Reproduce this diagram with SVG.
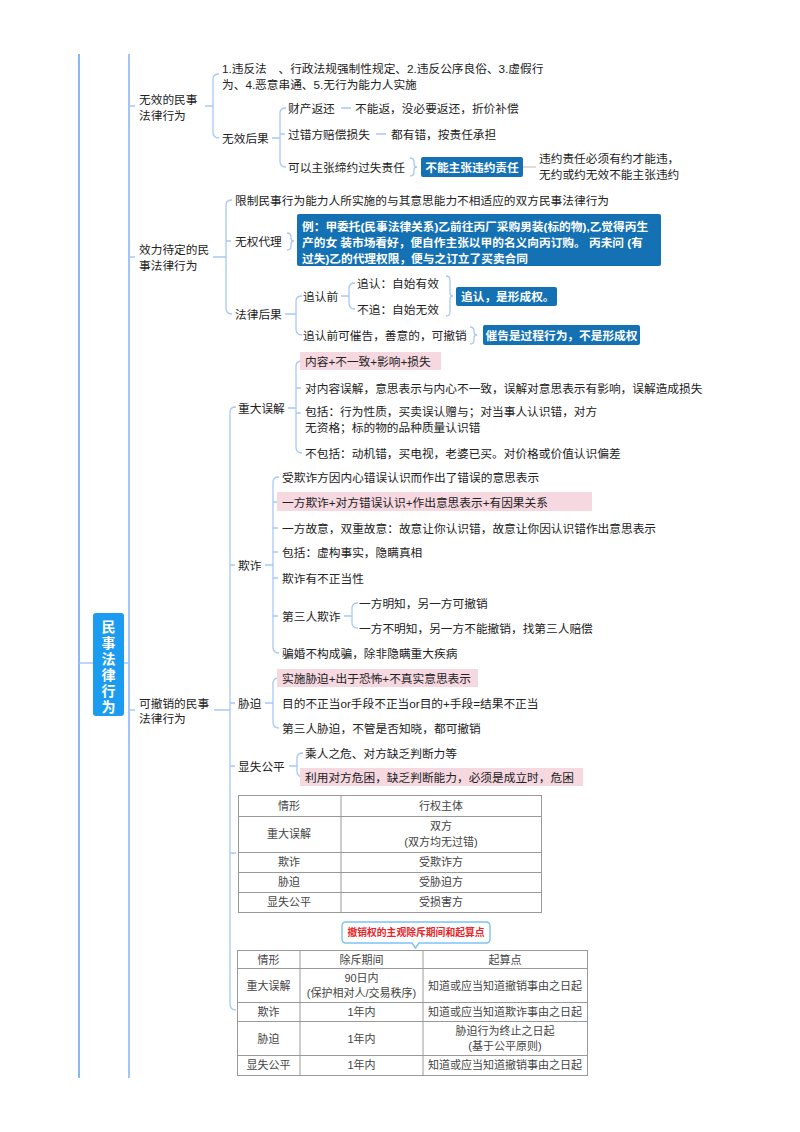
<svg xmlns="http://www.w3.org/2000/svg" width="800" height="1132" viewBox="0 0 800 1132">
<style>
text{font-family:"Liberation Sans","Noto Sans CJK SC",sans-serif;dominant-baseline:central}
.t{font-size:11.7px;fill:#222}
.b{font-size:11.7px;fill:#fff;font-weight:bold}
.r{font-size:14px;fill:#fff;font-weight:bold;text-anchor:middle}
.tb{font-size:11px;fill:#444;text-anchor:middle}
.ln{fill:none;stroke:#a8c8f6;stroke-width:1.3}
.main{fill:none;stroke:#8db6f5;stroke-width:2}
.blue{fill:#1371b4}
.pink{fill:#f5d8e0}
.grid{fill:none;stroke:#9a9a9a;stroke-width:1}
.grey{stroke:#d0d0d0;stroke-width:1.5}
</style>
<rect width="800" height="1132" fill="#fff"/>

<g id="connectors">
  <line class="main" x1="79" y1="54" x2="79" y2="1078"/>
  <line class="main" x1="129" y1="54" x2="129" y2="1078" style="stroke-width:1.6"/>
  <path class="ln" d="M79,663 H93 M123,663 H129"/>
  <path class="ln" d="M129,106 H135 M129,257 H135 M129,710 H135"/>
  <path class="ln" d="M205,106 H213 M219,74 Q213,74 213,79 V132 Q213,138 219,138"/>
  <path class="ln" d="M272,138 H280 M286,108 Q280,108 280,113 V161 Q280,167 286,167 M280,134 H285"/>
  <path class="ln" d="M341,108 H351 M376,134 H386"/>
  <path class="ln" d="M410,158 Q414,158 414,162 V164 Q414,167 417,167 Q414,167 414,170 V172 Q414,176 410,176"/>
  <line class="grey" x1="523" y1="167" x2="536" y2="167"/>
  <path class="ln" d="M213,257 H226 M232,200 Q226,200 226,205 V308 Q226,314 232,314 M226,241 H231"/>
  <path class="ln" d="M287,233 Q291,233 291,237 V238 Q291,241 294,241 Q291,241 291,244 V246 Q291,250 287,250"/>
  <path class="ln" d="M285,314 H296 M302,296 Q296,296 296,301 V329 Q296,335 302,335"/>
  <path class="ln" d="M341,296 H349 M355,283 Q349,283 349,288 V303 Q349,309 355,309"/>
  <path class="ln" d="M446,276 Q450,276 450,280 V293 Q450,296 453,296 Q450,296 450,299 V312 Q450,316 446,316"/>
  <path class="ln" d="M470,327 Q474,327 474,331 V332 Q474,335 477,335 Q474,335 474,338 V340 Q474,344 470,344"/>
  <path class="ln" d="M214,710 H230 M236,407 Q230,407 230,412 V1004 Q230,1010 236,1010 M230,565 H235 M230,703 H235 M230,766 H235 M230,853 H236"/>
  <path class="ln" d="M288,408 H296 M302,361 Q296,361 296,366 V447 Q296,453 302,453 M296,388 H301 M296,413 H301"/>
  <path class="ln" d="M265,565 H273 M279,477 Q273,477 273,482 V647 Q273,653 279,653 M273,502 H278 M273,528 H278 M273,552 H278 M273,578 H278 M273,616 H278"/>
  <path class="ln" d="M344,616 H352 M358,603 Q352,603 352,608 V623 Q352,628 358,628"/>
  <path class="ln" d="M265,703 H273 M279,678 Q273,678 273,683 V722 Q273,728 279,728"/>
  <path class="ln" d="M289,766 H297 M303,753 Q297,753 297,758 V771 Q297,777 303,777"/>
</g>

<g id="root">
  <rect x="93" y="613" width="31" height="103" rx="3" fill="#1c9cf0"/>
  <text class="r" x="108.5" y="627">民</text>
  <text class="r" x="108.5" y="643">事</text>
  <text class="r" x="108.5" y="659">法</text>
  <text class="r" x="108.5" y="675">律</text>
  <text class="r" x="108.5" y="691">行</text>
  <text class="r" x="108.5" y="707">为</text>
</g>

<g id="n-wuxiao">
  <text class="t" x="139" y="99">无效的民事</text>
  <text class="t" x="139" y="115">法律行为</text>
</g>
<g id="n-wuxiao-qingxing">
  <text class="t" x="222" y="68">1.违反法　、行政法规强制性规定、2.违反公序良俗、3.虚假行</text>
  <text class="t" x="222" y="84">为、4.恶意串通、5.无行为能力人实施</text>
</g>
<g id="n-wuxiao-houguo"><text class="t" x="222" y="138">无效后果</text></g>
<g id="n-caichan"><text class="t" x="288" y="108">财产返还</text></g>
<g id="n-caichan-d"><text class="t" x="355" y="108">不能返，没必要返还，折价补偿</text></g>
<g id="n-guocuo"><text class="t" x="288" y="134">过错方赔偿损失</text></g>
<g id="n-guocuo-d"><text class="t" x="391" y="134">都有错，按责任承担</text></g>
<g id="n-diyue"><text class="t" x="288" y="167">可以主张缔约过失责任</text></g>
<g id="n-diyue-note">
  <rect class="blue" x="421" y="157" width="102" height="20" rx="2"/>
  <text class="b" x="472" y="167" text-anchor="middle">不能主张违约责任</text>
</g>
<g id="n-diyue-d">
  <text class="t" x="539" y="158">违约责任必须有约才能违，</text>
  <text class="t" x="539" y="174">无约或约无效不能主张违约</text>
</g>

<g id="n-daiding">
  <text class="t" x="139" y="249">效力待定的民</text>
  <text class="t" x="139" y="265">事法律行为</text>
</g>
<g id="n-xianzhi"><text class="t" x="235" y="200">限制民事行为能力人所实施的与其意思能力不相适应的双方民事法律行为</text></g>
<g id="n-wuquan"><text class="t" x="235" y="241">无权代理</text></g>
<g id="n-wuquan-note">
  <rect class="blue" x="297" y="214" width="364" height="52" rx="2"/>
  <text class="b" x="302" y="226">例：甲委托(民事法律关系)乙前往丙厂采购男装(标的物),乙觉得丙生</text>
  <text class="b" x="302" y="242">产的女 装市场看好，便自作主张以甲的名义向丙订购。 丙未问 (有</text>
  <text class="b" x="302" y="258">过失)乙的代理权限，便与之订立了买卖合同</text>
</g>
<g id="n-falv"><text class="t" x="235" y="314">法律后果</text></g>
<g id="n-zhuirenqian"><text class="t" x="303" y="296">追认前</text></g>
<g id="n-zhuiren"><text class="t" x="357" y="283">追认：自始有效</text></g>
<g id="n-buzhui"><text class="t" x="357" y="309">不追：自始无效</text></g>
<g id="n-xingcheng">
  <rect class="blue" x="456" y="287" width="101" height="19" rx="2"/>
  <text class="b" x="461" y="296.5">追认，是形成权。</text>
</g>
<g id="n-cuigao"><text class="t" x="303" y="335">追认前可催告，善意的，可撤销</text></g>
<g id="n-cuigao-note">
  <rect class="blue" x="483" y="325" width="157" height="20" rx="2"/>
  <text class="b" x="561.5" y="335" text-anchor="middle">催告是过程行为，不是形成权</text>
</g>

<g id="n-kechexiao">
  <text class="t" x="139" y="703">可撤销的民事</text>
  <text class="t" x="139" y="718">法律行为</text>
</g>

<g id="n-zhongda"><text class="t" x="238" y="408">重大误解</text></g>
<g id="n-zd1">
  <rect class="pink" x="300" y="352" width="141" height="18"/>
  <text class="t" x="305" y="361">内容+不一致+影响+损失</text>
</g>
<g id="n-zd2"><text class="t" x="305" y="388">对内容误解，意思表示与内心不一致，误解对意思表示有影响，误解造成损失</text></g>
<g id="n-zd3">
  <text class="t" x="305" y="411">包括：行为性质，买卖误认赠与；对当事人认识错，对方</text>
  <text class="t" x="305" y="427">无资格；标的物的品种质量认识错</text>
</g>
<g id="n-zd4"><text class="t" x="305" y="453">不包括：动机错，买电视，老婆已买。对价格或价值认识偏差</text></g>

<g id="n-qizha"><text class="t" x="238" y="565">欺诈</text></g>
<g id="n-qz1"><text class="t" x="282" y="477">受欺诈方因内心错误认识而作出了错误的意思表示</text></g>
<g id="n-qz2">
  <rect class="pink" x="277" y="492" width="315" height="19"/>
  <text class="t" x="282" y="502">一方欺诈+对方错误认识+作出意思表示+有因果关系</text>
</g>
<g id="n-qz3"><text class="t" x="282" y="528">一方故意，双重故意：故意让你认识错，故意让你因认识错作出意思表示</text></g>
<g id="n-qz4"><text class="t" x="282" y="552">包括：虚构事实，隐瞒真相</text></g>
<g id="n-qz5"><text class="t" x="282" y="578">欺诈有不正当性</text></g>
<g id="n-qz6"><text class="t" x="282" y="616">第三人欺诈</text></g>
<g id="n-qz6a"><text class="t" x="359" y="603">一方明知，另一方可撤销</text></g>
<g id="n-qz6b"><text class="t" x="359" y="628">一方不明知，另一方不能撤销，找第三人赔偿</text></g>
<g id="n-qz7"><text class="t" x="282" y="653">骗婚不构成骗，除非隐瞒重大疾病</text></g>

<g id="n-xiepo"><text class="t" x="238" y="703">胁迫</text></g>
<g id="n-xp1">
  <rect class="pink" x="277" y="669" width="201" height="18"/>
  <text class="t" x="282" y="678">实施胁迫+出于恐怖+不真实意思表示</text>
</g>
<g id="n-xp2"><text class="t" x="282" y="703">目的不正当or手段不正当or目的+手段=结果不正当</text></g>
<g id="n-xp3"><text class="t" x="282" y="728">第三人胁迫，不管是否知晓，都可撤销</text></g>

<g id="n-xianshi"><text class="t" x="238" y="766">显失公平</text></g>
<g id="n-xs1"><text class="t" x="305" y="753">乘人之危、对方缺乏判断力等</text></g>
<g id="n-xs2">
  <rect class="pink" x="300" y="768" width="283" height="18"/>
  <text class="t" x="305" y="777">利用对方危困，缺乏判断能力，必须是成立时，危困</text>
</g>

<g id="table1">
  <rect class="grid" x="238.5" y="795.5" width="303" height="117"/>
  <path class="grid" d="M341,795.5 V912.5 M238.5,816.5 H541.5 M238.5,852.5 H541.5 M238.5,872.5 H541.5 M238.5,892.5 H541.5"/>
  <text class="tb" x="289" y="806">情形</text>
  <text class="tb" x="441" y="806">行权主体</text>
  <text class="tb" x="289" y="834">重大误解</text>
  <text class="tb" x="441" y="826">双方</text>
  <text class="tb" x="441" y="842">(双方均无过错)</text>
  <text class="tb" x="289" y="862">欺诈</text>
  <text class="tb" x="441" y="862">受欺诈方</text>
  <text class="tb" x="289" y="882">胁迫</text>
  <text class="tb" x="441" y="882">受胁迫方</text>
  <text class="tb" x="289" y="902">显失公平</text>
  <text class="tb" x="441" y="902">受损害方</text>
</g>

<g id="callout">
  <path d="M346,922 H486 Q490,922 490,926 V939 Q490,943 486,943 H419 L415.5,948 L412,943 H346 Q342,943 342,939 V926 Q342,922 346,922 Z" fill="#fff" stroke="#7cc3f2" stroke-width="1.4"/>
  <text x="416" y="932.5" text-anchor="middle" style="font-size:9.8px;fill:#e8262a;font-weight:bold">撤销权的主观除斥期间和起算点</text>
</g>

<g id="table2">
  <rect class="grid" x="237.5" y="950.5" width="350" height="125"/>
  <path class="grid" d="M300,950.5 V1075.5 M423,950.5 V1075.5 M237.5,968.5 H587.5 M237.5,1002.5 H587.5 M237.5,1021.5 H587.5 M237.5,1055.5 H587.5"/>
  <text class="tb" x="268.5" y="959.5">情形</text>
  <text class="tb" x="361.5" y="959.5">除斥期间</text>
  <text class="tb" x="505" y="959.5">起算点</text>
  <text class="tb" x="268.5" y="985.5">重大误解</text>
  <text class="tb" x="361.5" y="978">90日内</text>
  <text class="tb" x="361.5" y="993">(保护相对人/交易秩序)</text>
  <text class="tb" x="505" y="985.5">知道或应当知道撤销事由之日起</text>
  <text class="tb" x="268.5" y="1012">欺诈</text>
  <text class="tb" x="361.5" y="1012">1年内</text>
  <text class="tb" x="505" y="1012">知道或应当知道欺诈事由之日起</text>
  <text class="tb" x="268.5" y="1038.5">胁迫</text>
  <text class="tb" x="361.5" y="1038.5">1年内</text>
  <text class="tb" x="505" y="1031">胁迫行为终止之日起</text>
  <text class="tb" x="505" y="1046">(基于公平原则)</text>
  <text class="tb" x="268.5" y="1065">显失公平</text>
  <text class="tb" x="361.5" y="1065">1年内</text>
  <text class="tb" x="505" y="1065">知道或应当知道撤销事由之日起</text>
</g>
</svg>
